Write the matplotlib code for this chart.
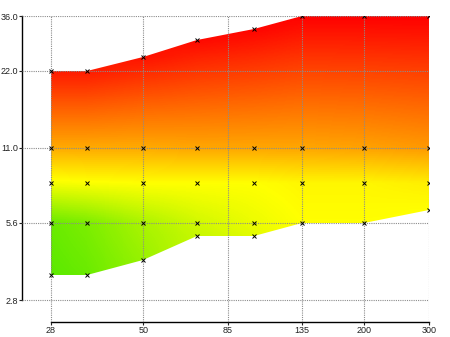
import numpy as np
import matplotlib
matplotlib.use("Agg")
import matplotlib.pyplot as plt
from matplotlib.colors import LinearSegmentedColormap
from matplotlib.patches import Polygon

plt.rcParams['font.family'] = ['Liberation Sans', 'DejaVu Sans']

# Focal lengths (mm)
focals = [28, 35, 50, 70, 100, 135, 200, 300]
# Tested apertures per focal length and colour score (0 = green/good, 1 = red/poor)
apertures = {
    28:  [3.5, 5.6, 8, 11, 22],
    35:  [3.5, 5.6, 8, 11, 22],
    50:  [4, 5.6, 8, 11, 25],
    70:  [5, 5.6, 8, 11, 29],
    100: [5, 5.6, 8, 11, 32],
    135: [5.6, 8, 11, 36],
    200: [5.6, 8, 11, 36],
    300: [6.3, 8, 11, 36],
}
scores = {
    28:  [0.05, 0.08, 0.38, 0.60, 0.94],
    35:  [0.08, 0.12, 0.39, 0.60, 0.94],
    50:  [0.18, 0.22, 0.40, 0.60, 0.96],
    70:  [0.28, 0.30, 0.40, 0.61, 0.98],
    100: [0.34, 0.36, 0.40, 0.61, 0.99],
    135: [0.40, 0.42, 0.61, 1.0],
    200: [0.40, 0.42, 0.62, 1.0],
    300: [0.40, 0.44, 0.64, 1.0],
}
x_ticks = [28, 50, 85, 135, 200, 300]
y_ticks = [2.8, 5.6, 11.0, 22.0, 36.0]
y_tick_labels = ["2.8", "5.6", "11.0", "22.0", "36.0"]

W, H = 450, 337
fig = plt.figure(figsize=(W / 100, H / 100), dpi=100)
ax = fig.add_axes([22 / W, 1 - 322 / H, (429 - 22) / W, (322 - 16) / H])
ax.set_xscale("log")
ax.set_yscale("log")

# limits so that 28..300 maps to px 51..429 and 2.8..36 maps to px 300..16
kx = (429 - 51) / (np.log(300) - np.log(28))
ky = (300 - 16) / (np.log(36) - np.log(2.8))
ax.set_xlim(np.exp(np.log(28) - 29 / kx), 300)
ax.set_ylim(np.exp(np.log(2.8) - 22 / ky), 36)

cmap = LinearSegmentedColormap.from_list(
    "lens", [(0.0, "#44e600"), (0.4, "#ffff00"), (1.0, "#ff0000")])

# interpolated colour field
fx = np.geomspace(28, 300, 400)
fy = np.geomspace(3.4, 36.5, 400)
cols = []
for f in focals:
    cols.append(np.interp(np.log(fy), np.log(apertures[f]), scores[f]))
cols = np.array(cols)  # (nfocals, ny)
lf = np.log(focals)
Z = np.empty((len(fy), len(fx)))
for j in range(len(fy)):
    Z[j, :] = np.interp(np.log(fx), lf, cols[:, j])

top = [(f, max(apertures[f])) for f in focals]
bot = [(f, min(apertures[f])) for f in focals][::-1]
poly = Polygon(top + bot, closed=True, transform=ax.transData,
               facecolor="none", edgecolor="none")
ax.add_patch(poly)
mesh = ax.pcolormesh(fx, fy, Z, cmap=cmap, vmin=0, vmax=1,
                     shading="auto", zorder=1, rasterized=True)
mesh.set_clip_path(poly)

# markers
mx, my = [], []
for f in focals:
    for a in apertures[f]:
        mx.append(f)
        my.append(a)
ax.plot(mx, my, linestyle="none", marker="x", markersize=2.2,
        markeredgewidth=0.7, color="black", zorder=4)

ax.set_xticks(x_ticks)
ax.set_xticklabels([str(v) for v in x_ticks])
ax.set_yticks(y_ticks)
ax.set_yticklabels(y_tick_labels)
ax.xaxis.set_minor_locator(matplotlib.ticker.NullLocator())
ax.yaxis.set_minor_locator(matplotlib.ticker.NullLocator())

ax.set_axisbelow(False)
ax.grid(True, color="#8c8c8c", linestyle=(0, (1, 1)), linewidth=0.8, zorder=3)

for s in ["top", "right"]:
    ax.spines[s].set_visible(False)
ax.spines["left"].set_bounds(2.8, 36)
ax.spines["bottom"].set_bounds(28, 300)
ax.spines["left"].set_linewidth(1.0)
ax.spines["bottom"].set_linewidth(1.0)
ax.tick_params(axis="both", length=2, width=0.8, labelsize=6.5, pad=1,
               colors="#222222")

fig.savefig("out.png", dpi=100)
